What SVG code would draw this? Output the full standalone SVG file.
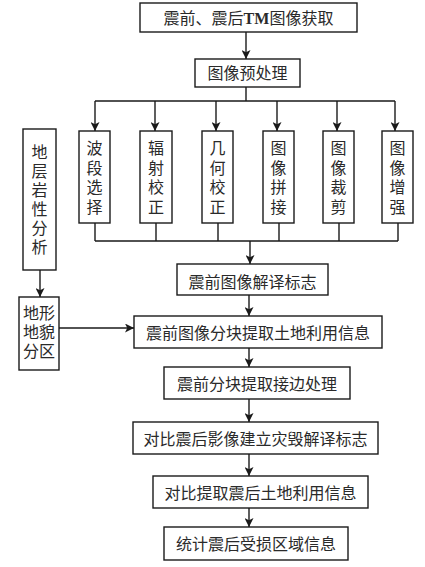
<svg xmlns="http://www.w3.org/2000/svg" width="425" height="567" viewBox="0 0 425 567">
<defs>
<marker id="ah" markerUnits="userSpaceOnUse" viewBox="0 0 10 10" refX="10" refY="5" markerWidth="10" markerHeight="9" orient="auto">
<path d="M0,0 L10,5 L0,10 L2.5,5 z" fill="#1a1a1a"/>
</marker>
<style>
rect{fill:#fff;stroke:#1a1a1a;stroke-width:1.4}
text{font-family:"Liberation Serif","Noto Sans CJK SC",serif;font-size:16px;fill:#2a2a2a;text-anchor:middle}
.c line,.c path{stroke:#1a1a1a;stroke-width:1.4;fill:none}
.a{marker-end:url(#ah)}
</style>
</defs>
<rect x="0" y="0" width="425" height="567" style="fill:#fff;stroke:none"/>
<g class="c">
<line class="a" x1="246" y1="32" x2="246" y2="59"/>
<path d="M246,87 V101 M95,101 H395"/>
<line class="a" x1="95" y1="101" x2="95" y2="131"/>
<line class="a" x1="155" y1="101" x2="155" y2="131"/>
<line class="a" x1="216" y1="101" x2="216" y2="131"/>
<line class="a" x1="277" y1="101" x2="277" y2="131"/>
<line class="a" x1="337" y1="101" x2="337" y2="131"/>
<line class="a" x1="395" y1="101" x2="395" y2="131"/>
<path d="M95,223 V241 M156,223 V241 M218,223 V241 M279,223 V241 M339,223 V241 M398,223 V241 M95,241 H398"/>
<line class="a" x1="250" y1="241" x2="250" y2="264"/>
<line class="a" x1="249" y1="295" x2="249" y2="316"/>
<line class="a" x1="249" y1="348" x2="249" y2="367"/>
<line class="a" x1="249" y1="399" x2="249" y2="422"/>
<line class="a" x1="249" y1="454" x2="249" y2="476"/>
<line class="a" x1="249" y1="508" x2="249" y2="527"/>
<line class="a" x1="40" y1="270" x2="40" y2="297"/>
<line class="a" x1="59" y1="328" x2="134" y2="328"/>
</g>
<g id="n1"><rect x="140" y="3" width="217" height="29"/><text x="248.5" y="23.5">震前、震后<tspan font-weight="bold">TM</tspan>图像获取</text></g>
<g id="n2"><rect x="195" y="59" width="105" height="28"/><text x="247.5" y="79">图像预处理</text></g>
<g id="n3"><rect x="79" y="131" width="31" height="92"/><text x="94.5" y="154">波<tspan x="94.5" dy="19.7">段</tspan><tspan x="94.5" dy="19.7">选</tspan><tspan x="94.5" dy="19.7">择</tspan></text></g>
<g id="n4"><rect x="140" y="131" width="32" height="92"/><text x="156" y="154">辐<tspan x="156" dy="19.7">射</tspan><tspan x="156" dy="19.7">校</tspan><tspan x="156" dy="19.7">正</tspan></text></g>
<g id="n5"><rect x="202" y="131" width="31" height="92"/><text x="217.5" y="154">几<tspan x="217.5" dy="19.7">何</tspan><tspan x="217.5" dy="19.7">校</tspan><tspan x="217.5" dy="19.7">正</tspan></text></g>
<g id="n6"><rect x="263" y="131" width="31" height="92"/><text x="278.5" y="154">图<tspan x="278.5" dy="19.7">像</tspan><tspan x="278.5" dy="19.7">拼</tspan><tspan x="278.5" dy="19.7">接</tspan></text></g>
<g id="n7"><rect x="323" y="131" width="31" height="92"/><text x="338.5" y="154">图<tspan x="338.5" dy="19.7">像</tspan><tspan x="338.5" dy="19.7">裁</tspan><tspan x="338.5" dy="19.7">剪</tspan></text></g>
<g id="n8"><rect x="382" y="131" width="31" height="92"/><text x="397.5" y="154">图<tspan x="397.5" dy="19.7">像</tspan><tspan x="397.5" dy="19.7">增</tspan><tspan x="397.5" dy="19.7">强</tspan></text></g>
<g id="n9"><rect x="23" y="129" width="33" height="141"/><text x="39.5" y="158">地<tspan x="39.5" dy="19">层</tspan><tspan x="39.5" dy="19">岩</tspan><tspan x="39.5" dy="19">性</tspan><tspan x="39.5" dy="19">分</tspan><tspan x="39.5" dy="19">析</tspan></text></g>
<g id="n10"><rect x="19" y="297" width="40" height="73"/><text x="39" y="319">地形<tspan x="39" dy="19">地貌</tspan><tspan x="39" dy="19">分区</tspan></text></g>
<g id="n11"><rect x="177" y="264" width="151" height="31"/><text x="252.5" y="288">震前图像解译标志</text></g>
<g id="n12"><rect x="134" y="316" width="248" height="32"/><text x="258" y="339">震前图像分块提取土地利用信息</text></g>
<g id="n13"><rect x="164" y="367" width="186" height="32"/><text x="257" y="390">震前分块提取接边处理</text></g>
<g id="n14"><rect x="133" y="422" width="245" height="32"/><text x="255.5" y="445">对比震后影像建立灾毁解译标志</text></g>
<g id="n15"><rect x="153" y="476" width="215" height="32"/><text x="260.5" y="499">对比提取震后土地利用信息</text></g>
<g id="n16"><rect x="164" y="527" width="184" height="33"/><text x="256" y="550">统计震后受损区域信息</text></g>
</svg>
